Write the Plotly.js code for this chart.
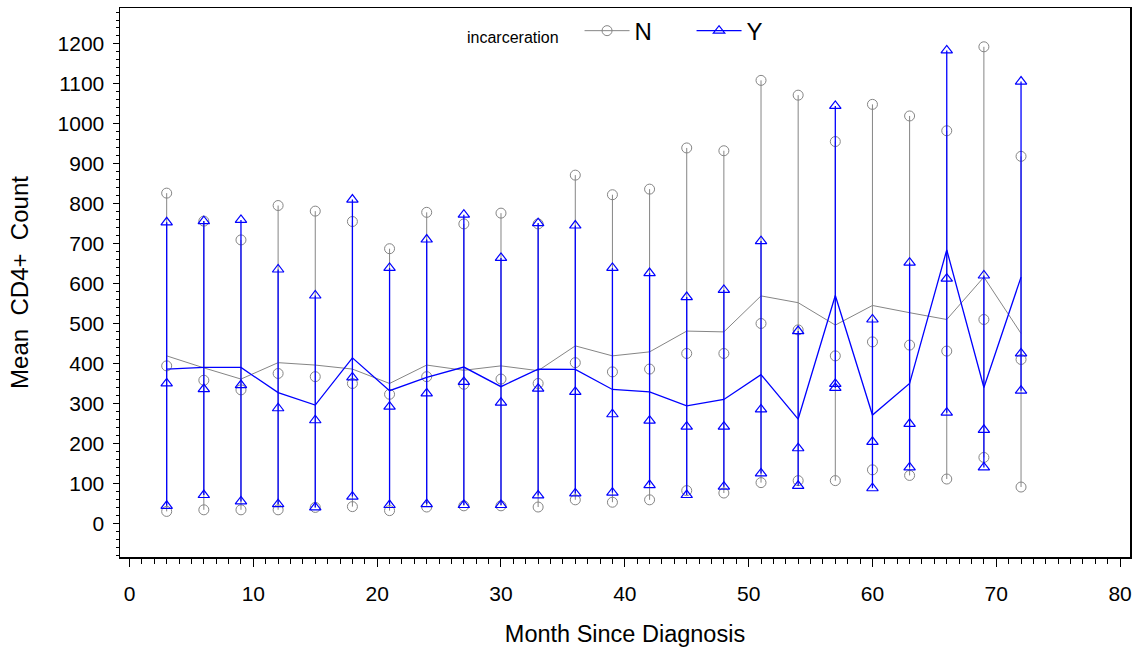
<!DOCTYPE html>
<html>
<head>
<meta charset="utf-8">
<script src="https://cdn.plot.ly/plotly-3.0.1.min.js"></script>
<style>html,body{margin:0;padding:0;background:#fff;}#chart{width:1138px;height:658px;}</style>
</head>
<body>
<div id="chart"></div>
<script>
// Months since diagnosis
const months = [3,6,9,12,15,18,21,24,27,30,33,36,39,42,45,48,51,54,57,60,63,66,69,72];

// incarceration = N
const nMax  = [827,757,710,796,782,756,688,779,750,777,750,872,823,837,940,933,1109,1072,956,1049,1020,983,1193,919];
const nMed  = [395,359,335,376,368,351,324,368,349,362,351,403,380,387,426,426,501,485,420,455,447,432,511,411];
const nMin  = [31,35,35,35,41,43,33,42,45,45,42,60,54,60,83,77,103,108,108,135,121,112,166,92];
const nMean = [420,390,362,403,397,387,351,397,384,395,383,445,420,430,482,480,570,553,497,546,528,511,617,476];

// incarceration = Y
const yMax  = [754,757,760,636,571,811,640,711,773,665,752,746,640,627,567,585,707,482,1045,511,653,1184,621,1106];
const yMed  = [351,337,347,289,259,366,293,326,355,303,338,330,274,258,243,243,286,189,350,205,250,613,235,426];
const yMin  = [45,72,56,49,41,68,47,49,47,47,71,76,78,97,72,93,126,95,340,89,141,278,141,333];
const yMean = [387,391,391,328,297,415,333,366,392,343,387,386,336,330,295,311,373,262,571,272,351,685,341,617];

const legendLabel = 'incarceration';

const GRAY = '#858585';
const BLUE = '#0000ff';
const FONT = '"Liberation Sans", Arial, sans-serif';

function whiskers(mins, meds, maxs) {
  const xs = [], ys = [];
  months.forEach((m, i) => {
    xs.push(m, m, m, null);
    ys.push(mins[i], meds[i], maxs[i], null);
  });
  return {x: xs, y: ys};
}

const wN = whiskers(nMin, nMed, nMax);
const wY = whiskers(yMin, yMed, yMax);

const traces = [
  {x: wN.x, y: wN.y, type: 'scatter', mode: 'lines+markers', name: 'N',
   connectgaps: false, line: {color: GRAY, width: 1},
   marker: {symbol: 'circle-open', size: 10, color: GRAY, line: {width: 1, color: GRAY}}},
  {x: months, y: nMean, type: 'scatter', mode: 'lines', showlegend: false,
   line: {color: GRAY, width: 1}},
  {x: wY.x, y: wY.y, type: 'scatter', mode: 'lines+markers', name: 'Y',
   connectgaps: false, line: {color: BLUE, width: 1.3},
   marker: {symbol: 'triangle-up-open', size: 10, color: BLUE, line: {width: 1.2, color: BLUE}}},
  {x: months, y: yMean, type: 'scatter', mode: 'lines', showlegend: false,
   line: {color: BLUE, width: 1.3}}
];

const layout = {
  width: 1138, height: 658,
  margin: {l: 120, r: 8, t: 8, b: 101},
  paper_bgcolor: '#fff', plot_bgcolor: '#fff',
  font: {family: FONT, color: '#000', size: 21},
  showlegend: true,
  legend: {
    orientation: 'h', x: 0.455, xanchor: 'left', y: 0.958, yanchor: 'middle',
    bgcolor: 'rgba(0,0,0,0)', font: {family: FONT, size: 24, color: '#000'},
    itemwidth: 45, entrywidth: 52, entrywidthmode: 'pixels', traceorder: 'normal'
  },
  annotations: [{
    text: legendLabel, xref: 'paper', yref: 'paper',
    x: 0.3416, xanchor: 'left', y: 0.9454, yanchor: 'middle',
    showarrow: false, font: {family: FONT, size: 16, color: '#000'}
  }],
  xaxis: {
    range: [-0.77, 80.8], tick0: 0, dtick: 10,
    showgrid: false, zeroline: false,
    showline: true, mirror: true, linecolor: '#000', linewidth: 1.5,
    ticks: 'outside', ticklen: 8, tickcolor: '#000', tickwidth: 1,
    minor: {dtick: 1, ticks: 'outside', ticklen: 5, tickcolor: '#000', tickwidth: 1, showgrid: false},
    tickfont: {family: FONT, size: 21, color: '#000'},
    ticklabelstandoff: 9,
    title: {text: 'Month Since Diagnosis', font: {family: FONT, size: 23.5, color: '#000'}, standoff: 22}
  },
  yaxis: {
    range: [-83, 1290], tick0: 0, dtick: 100,
    showgrid: false, zeroline: false,
    showline: true, mirror: true, linecolor: '#000', linewidth: 1.5,
    ticks: 'outside', ticklen: 6, tickcolor: '#000', tickwidth: 1,
    minor: {dtick: 20, ticks: 'outside', ticklen: 3, tickcolor: '#000', tickwidth: 1, showgrid: false},
    tickfont: {family: FONT, size: 21, color: '#000'},
    ticklabelstandoff: 4,
    title: {text: 'Mean  CD4+  Count', font: {family: FONT, size: 24, color: '#000'}, standoff: 22}
  }
};

Plotly.newPlot('chart', traces, layout, {displayModeBar: false, staticPlot: true});
</script>
</body>
</html>
